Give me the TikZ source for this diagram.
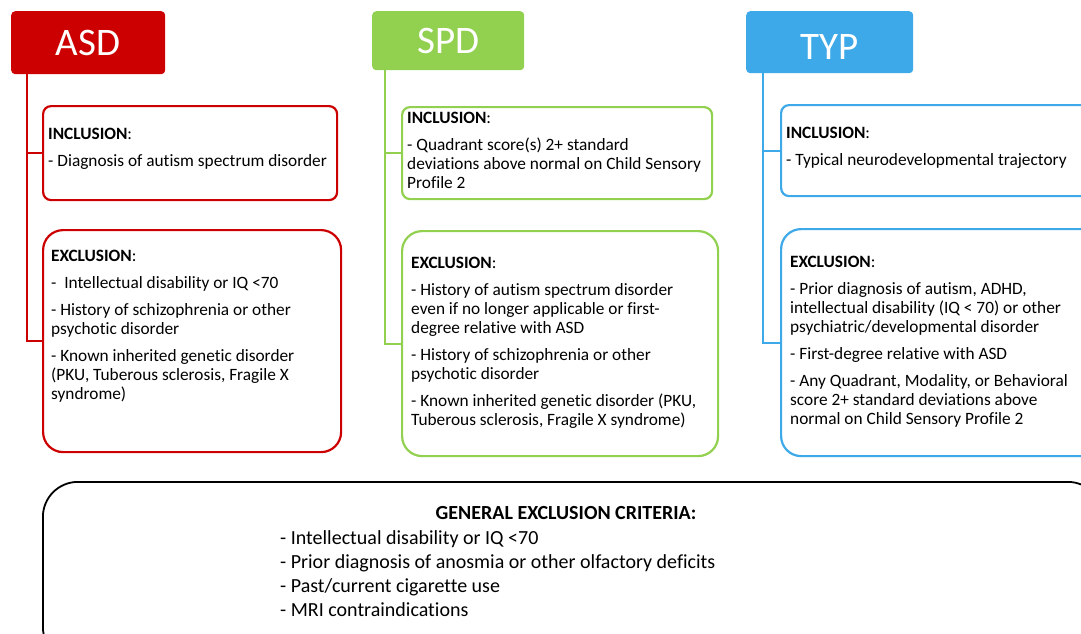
\documentclass[tikz,border=0pt]{standalone}
\usepackage{fontspec}
\setmainfont[Ligatures=NoCommon]{Carlito}
\usepackage{tikz}
\usetikzlibrary{positioning}
\usepackage{xcolor}
\definecolor{asdred}{RGB}{204,0,0}
\definecolor{spdgreen}{RGB}{146,208,80}
\definecolor{typblue}{RGB}{61,169,232}
\tikzstyle{header} = [rounded corners=4, text=white, inner sep=0, anchor=north west, font=\fontsize{39}{39}\selectfont]
\tikzstyle{inbox} = [line width=2.2, rounded corners=8, inner sep=0, anchor=north west]
\tikzstyle{exbox} = [line width=2.2, rounded corners=20, inner sep=0, anchor=north west]
\tikzstyle{txt} = [inner sep=0, anchor=north west, align=left, font=\fontsize{17.3}{19}\selectfont]
\tikzstyle{branch} = [line width=2.2]

\begin{document}
\begin{tikzpicture}[x=1pt, y=-1pt]
        \clip (0,0) rectangle (1081,634);
        % group headers
        \node[header, fill=asdred, minimum width=154, minimum height=63] (asd) at (11,11) {ASD};
        \node[header, fill=spdgreen, minimum width=152, minimum height=59] (spd) at (372,11) {SPD};
        \node[header, fill=typblue, minimum width=167, minimum height=62, text height=35, text depth=0] (typ) at (746,11) {TYP};
        % criteria boxes
        \node[inbox, draw=asdred, minimum width=294, minimum height=94] (asdinc) at (42,105) {};
        \node[exbox, draw=asdred, minimum width=298, minimum height=222] (asdexc) at (42,229) {};
        \node[inbox, draw=spdgreen, minimum width=310, minimum height=92] (spdinc) at (401,106) {};
        \node[exbox, draw=spdgreen, minimum width=316, minimum height=225] (spdexc) at (401,230) {};
        \node[inbox, draw=typblue, minimum width=320, minimum height=91] (typinc) at (780,104) {};
        \node[exbox, draw=typblue, minimum width=320, minimum height=227] (typexc) at (780,228) {};
        \draw[branch, asdred] ([xshift=16]asd.south west) |- (asdinc.west);
        \draw[branch, asdred] ([xshift=16]asd.south west) |- (asdexc.west);
        \draw[branch, spdgreen] ([xshift=13]spd.south west) |- (spdinc.west);
        \draw[branch, spdgreen] ([xshift=13]spd.south west) |- (spdexc.west);
        \draw[branch, typblue] ([xshift=17]typ.south west) |- (typinc.west);
        \draw[branch, typblue] ([xshift=17]typ.south west) |- (typexc.west);
        % texts
        \node[txt] (asdinctxt) at (48,128) {\textbf{INCLUSION}:\\[8pt]
          - Diagnosis of autism spectrum disorder};
        \node[txt] (asdexctxt) at (51,250) {\textbf{EXCLUSION}:\\[8pt]
          -~ Intellectual disability or IQ <70\\[8pt]
          - History of schizophrenia or other\\ psychotic disorder\\[8pt]
          - Known inherited genetic disorder\\ (PKU, Tuberous sclerosis, Fragile X\\ syndrome)};
        \node[txt] (spdinctxt) at (407,112) {\textbf{INCLUSION}:\\[8pt]
          - Quadrant score(s) 2+ standard\\ deviations above normal on Child Sensory\\ Profile 2};
        \node[txt] (spdexctxt) at (411,257) {\textbf{EXCLUSION}:\\[8pt]
          - History of autism spectrum disorder\\ even if no longer applicable or first-\\ degree relative with ASD\\[8pt]
          - History of schizophrenia or other\\ psychotic disorder\\[8pt]
          - Known inherited genetic disorder (PKU,\\ Tuberous sclerosis, Fragile X syndrome)};
        \node[txt] (typinctxt) at (786,127) {\textbf{INCLUSION}:\\[8pt]
          - Typical neurodevelopmental trajectory};
        \node[txt] (typexctxt) at (790,256) {\textbf{EXCLUSION}:\\[8pt]
          - Prior diagnosis of autism, ADHD,\\ intellectual disability (IQ < 70) or other\\ psychiatric/developmental disorder\\[8pt]
          - First-degree relative with ASD\\[8pt]
          - Any Quadrant, Modality, or Behavioral\\ score 2+ standard deviations above\\ normal on Child Sensory Profile 2};
        % general criteria
        \node[draw=black, line width=1.8, rounded corners=35, inner sep=0, anchor=north west,
          minimum width=1060, minimum height=180] (general) at (42,481) {};
        \node[font=\fontsize{20}{20}\selectfont\bfseries, inner sep=0] (gentitle) at (566,513) {GENERAL EXCLUSION CRITERIA:};
        \node[txt, font=\fontsize{20}{24.3}\selectfont] (genlist) at (280,530) {- Intellectual disability or IQ <70\\
          - Prior diagnosis of anosmia or other olfactory deficits\\
          - Past/current cigarette use\\
          - MRI contraindications};
      \end{tikzpicture}
\end{document}
